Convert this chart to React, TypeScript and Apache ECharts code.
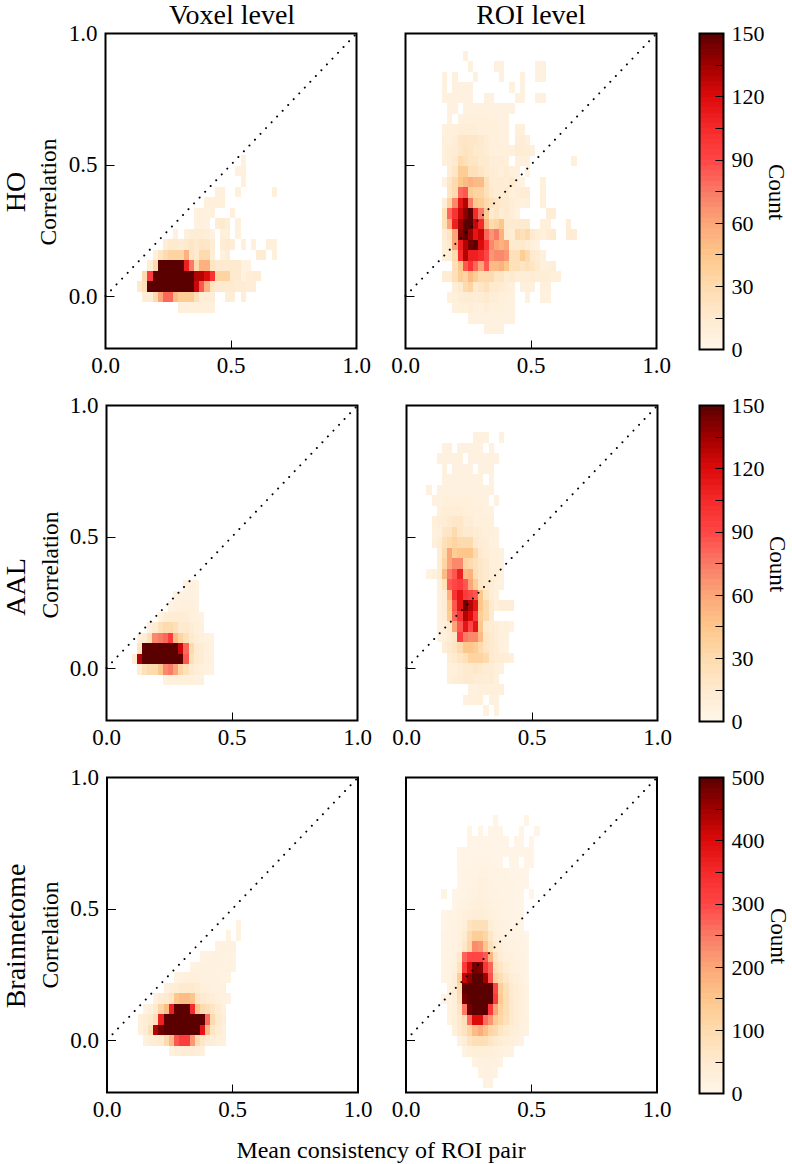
import React, { useEffect, useRef } from "react";
import * as echarts from "echarts";

const FONT = '"Liberation Serif", serif';

// Bin sizes in data units
const BIN_DX = 0.0206;
const BIN_DY = 0.04;

// Each row: [first column, counts...]; rows go from the lowest y bin upward.
const hoVoxelOrigin = [0.126, -0.063];
const hoVoxel = [
  [8, 8, 8, 8, 8, 8, 8, 8],
  [1, 10, 10, 30, 60, 80, 80, 50, 40, 40, 40, 25, 10, 10, 10, 0, 0, 10, 10, 0, 10],
  [0, 15, 25, 150, 150, 150, 150, 150, 150, 150, 150, 150, 125, 85, 55, 20, 15, 15, 15, 15, 12, 12, 10, 10],
  [1, 30, 95, 150, 150, 150, 150, 150, 150, 150, 150, 130, 130, 120, 100, 35, 35, 35, 15, 15, 5, 10, 12, 12],
  [2, 10, 30, 150, 150, 150, 150, 150, 110, 75, 30, 55, 55, 20, 15, 15, 15, 15, 15, 5, 5],
  [3, 8, 20, 30, 35, 35, 35, 55, 20, 15, 30, 30, 10, 0, 6, 10, 0, 0, 0, 0, 0, 12, 12, 0, 8],
  [5, 10, 15, 15, 12, 15, 20, 15, 20, 18, 12, 0, 12, 15, 10, 0, 8, 0, 8, 0, 0, 8, 8],
  [7, 6, 0, 8, 10, 12, 12, 10, 6, 0, 8, 8, 0, 6],
  [11, 6, 8, 6, 0, 12, 15, 10, 0, 6],
  [11, 6, 8, 6, 8, 0, 0, 0, 8],
  [13, 8, 8, 8, 8],
  [15, 8, 8, 0, 0, 8, 0, 0, 0, 0, 0, 0, 8],
  [20, 8],
  [19, 6, 8],
  [20, 6],
];

const hoRoiOrigin = [0.146, -0.145];
const hoRoi = [
  [8, 6, 6, 6, 6],
  [5, 6, 6, 6, 6, 6, 6, 6, 6, 6],
  [2, 6, 8, 8, 10, 8, 6, 10, 8, 8, 8, 6, 6],
  [1, 6, 8, 10, 12, 12, 10, 12, 15, 10, 10, 8, 8, 6, 0, 0, 6, 0, 0, 6, 6],
  [2, 10, 15, 30, 35, 15, 20, 25, 15, 15, 12, 10, 8, 0, 8, 8, 8, 0, 8, 8],
  [0, 12, 12, 25, 40, 35, 50, 40, 30, 30, 30, 20, 20, 12, 15, 10, 10, 10, 12, 10, 10, 10, 8, 8],
  [2, 25, 45, 85, 100, 80, 60, 85, 50, 50, 55, 45, 25, 25, 20, 25, 20, 15, 8, 8, 10],
  [0, 8, 10, 30, 105, 130, 110, 110, 105, 90, 65, 70, 70, 65, 25, 25, 40, 30, 15, 12, 8],
  [0, 10, 15, 60, 110, 130, 145, 150, 120, 100, 70, 60, 55, 60, 15, 15, 15, 12, 8, 5],
  [0, 12, 20, 60, 140, 150, 135, 115, 125, 80, 65, 75, 55, 15, 12, 30, 25, 30, 15, 10, 8, 12, 15, 0, 0, 12, 12],
  [0, 25, 60, 110, 135, 150, 150, 125, 105, 50, 30, 35, 45, 15, 15, 15, 15, 15, 0, 0, 8, 8, 0, 0, 0, 10],
  [0, 25, 80, 100, 125, 140, 150, 105, 75, 40, 15, 20, 12, 15, 10, 5, 0, 0, 0, 0, 0, 10, 10],
  [0, 10, 35, 70, 115, 130, 75, 45, 40, 30, 25, 20, 15, 15, 10, 8, 6, 8, 0, 0, 8],
  [1, 20, 30, 80, 85, 40, 35, 35, 25, 15, 12, 12, 15, 8, 10, 12, 12, 0, 0, 8],
  [0, 5, 18, 30, 45, 50, 55, 50, 50, 25, 12, 12, 12, 10, 15, 6, 5, 0, 0, 0, 8],
  [1, 10, 18, 40, 40, 25, 25, 20, 15, 12, 10, 8, 12, 8, 8, 0, 5],
  [0, 8, 10, 15, 30, 25, 20, 20, 15, 15, 10, 10, 10, 8, 0, 8, 8, 8, 0, 0, 0, 0, 0, 0, 0, 0, 8],
  [0, 8, 10, 12, 18, 22, 20, 15, 15, 12, 8, 8, 8, 8, 8, 12, 12, 10, 8],
  [0, 8, 8, 10, 18, 20, 18, 18, 15, 10, 8, 8, 6, 6, 0, 10, 10, 8],
  [0, 6, 8, 8, 10, 10, 10, 10, 8, 8, 8, 8, 6, 6, 0, 8, 8],
  [1, 6, 0, 6, 8, 8, 8, 8, 8, 8, 6, 6, 6],
  [1, 6, 6, 0, 6, 6, 6, 6, 6, 6, 6, 6, 6, 6],
  [0, 6, 6, 6, 6, 6, 6, 0, 0, 6, 6, 0, 0, 0, 0, 6, 6, 0, 0, 6, 6],
  [0, 6, 0, 6, 6, 6, 6, 0, 0, 0, 0, 0, 0, 0, 6, 0, 6],
  [0, 6, 0, 6, 0, 0, 0, 6, 0, 0, 0, 0, 6, 0, 0, 0, 6, 0, 0, 6, 6],
  [5, 6, 0, 0, 0, 0, 6, 6, 0, 0, 0, 0, 0, 0, 6, 6],
  [4, 6],
];

const aalVoxelOrigin = [0.1005, -0.066];
const aalVoxel = [
  [6, 6, 8, 8, 8, 8, 8, 6, 6],
  [1, 10, 25, 30, 30, 45, 70, 75, 60, 35, 25, 15, 10, 8, 6, 5],
  [0, 12, 130, 150, 150, 150, 150, 150, 150, 150, 150, 85, 25, 15, 12, 8, 6],
  [1, 20, 150, 150, 150, 150, 150, 150, 150, 125, 80, 30, 15, 12, 8, 5],
  [1, 8, 12, 25, 70, 75, 80, 95, 50, 35, 25, 15, 10, 8, 6, 5],
  [3, 6, 12, 25, 30, 30, 25, 15, 15, 12, 8, 6],
  [5, 5, 10, 12, 12, 12, 10, 8, 6, 5],
  [7, 5, 6, 8, 8, 8, 6],
  [8, 5, 6, 6, 6, 5],
  [10, 5, 6, 5],
];

const aalRoiOrigin = [0.0795, -0.181];
const aalRoi = [
  [11, 6, 0, 6],
  [7, 6, 8, 8, 8, 0, 6, 6],
  [8, 6, 6, 8, 8, 8, 8, 8],
  [4, 8, 10, 12, 15, 15, 12, 12, 10, 12, 8],
  [4, 8, 8, 10, 15, 15, 18, 15, 12, 12, 8, 6],
  [4, 10, 15, 20, 25, 35, 35, 35, 30, 15, 12, 12, 10, 8],
  [3, 10, 15, 20, 30, 45, 45, 40, 30, 20, 15, 12, 8, 5],
  [2, 5, 8, 12, 18, 95, 75, 70, 70, 50, 20, 15, 10, 8, 6],
  [2, 6, 8, 15, 60, 85, 115, 90, 115, 45, 15, 12, 10, 6, 8, 5],
  [2, 6, 10, 40, 80, 100, 130, 120, 95, 40, 30, 15],
  [2, 6, 12, 45, 85, 115, 145, 130, 115, 45, 30, 15, 8, 10, 10, 10],
  [2, 6, 12, 55, 100, 115, 95, 90, 85, 45, 20, 10, 8],
  [2, 8, 25, 85, 90, 95, 85, 60, 40, 18, 15, 12, 8, 6],
  [0, 5, 8, 12, 50, 75, 85, 110, 50, 55, 25, 18, 15, 10, 10, 6],
  [2, 12, 35, 60, 70, 70, 35, 30, 25, 18, 15, 8, 8, 6],
  [2, 10, 30, 60, 40, 45, 45, 45, 30, 15, 10, 8, 8, 6],
  [1, 8, 12, 25, 30, 35, 30, 30, 30, 15, 12, 10, 6, 6],
  [1, 6, 8, 18, 20, 30, 18, 15, 15, 12, 10, 8, 8, 6],
  [1, 8, 10, 12, 15, 18, 18, 10, 12, 8, 8, 8, 8],
  [2, 8, 10, 10, 10, 10, 8, 8, 8, 8, 6, 6],
  [1, 6, 6, 8, 8, 8, 8, 8, 8, 6, 6, 6, 0, 6],
  [0, 6, 0, 6, 6, 6, 6, 6, 6, 6, 6, 6, 6, 6],
  [3, 6, 6, 6, 6, 6, 6, 6, 6, 0, 6],
  [3, 6, 0, 6, 6, 6, 6, 0, 6, 6, 6],
  [2, 6, 6, 6, 6, 6, 0, 6, 6, 6, 6, 6, 6],
  [3, 6, 6, 0, 6, 6, 6, 6, 6, 0, 6],
  [9, 6, 6, 6, 0, 0, 6],
];

const brainVoxelOrigin = [0.1227, -0.061];
const brainVoxel = [
  [6, 25, 35, 40, 40, 40, 35, 25],
  [1, 20, 35, 40, 50, 100, 165, 285, 315, 315, 215, 100, 60, 40, 35, 25, 20],
  [0, 25, 40, 85, 435, 485, 500, 500, 500, 500, 500, 500, 500, 385, 165, 65, 40, 25],
  [0, 25, 35, 50, 85, 365, 500, 500, 500, 500, 500, 500, 500, 500, 265, 100, 50, 35],
  [1, 15, 25, 50, 115, 165, 365, 500, 500, 500, 350, 150, 100, 85, 65, 40, 25],
  [3, 20, 40, 50, 65, 150, 165, 165, 150, 65, 50, 40, 35, 25, 20, 15],
  [5, 20, 35, 40, 50, 50, 50, 40, 25, 25, 20, 20, 20],
  [7, 15, 20, 25, 25, 25, 20, 20, 20, 20, 15, 15],
  [10, 15, 20, 20, 20, 20, 20, 20, 20, 15],
  [12, 15, 15, 20, 20, 20, 20, 15],
  [15, 15, 20, 20, 20],
  [17, 15, 0, 15],
  [19, 15],
];

const brainRoiOrigin = [0.141, -0.184];
const brainRoi = [
  [8, 15, 15],
  [7, 15, 20, 20, 15],
  [6, 15, 20, 20, 20, 20, 15],
  [4, 15, 25, 30, 30, 30, 30, 25, 20, 15, 15],
  [3, 20, 35, 70, 85, 90, 85, 65, 50, 40, 30, 25, 20, 15],
  [2, 25, 50, 75, 110, 165, 190, 160, 115, 100, 65, 50, 35, 30, 20, 15],
  [1, 15, 30, 55, 85, 265, 400, 400, 260, 220, 140, 110, 80, 50, 35, 25, 20],
  [1, 15, 25, 65, 250, 480, 500, 500, 500, 330, 200, 120, 90, 50, 35, 25, 15],
  [0, 10, 15, 30, 90, 480, 500, 500, 500, 500, 500, 320, 140, 90, 50, 35, 25, 15],
  [1, 20, 35, 100, 500, 500, 500, 500, 500, 500, 300, 130, 85, 45, 35, 25, 15],
  [0, 10, 15, 35, 130, 420, 460, 500, 500, 450, 290, 120, 90, 60, 35, 30, 20, 12],
  [0, 10, 15, 25, 75, 320, 400, 480, 470, 330, 270, 90, 65, 40, 25, 20, 15, 10],
  [0, 10, 12, 20, 55, 270, 300, 300, 300, 280, 180, 75, 40, 25, 25, 15, 15, 10],
  [0, 10, 12, 15, 25, 60, 115, 230, 220, 150, 85, 40, 30, 20, 15, 15, 12, 10],
  [0, 10, 12, 15, 20, 45, 100, 130, 130, 110, 60, 30, 25, 15, 15, 12, 10, 8],
  [0, 8, 10, 15, 20, 30, 70, 85, 85, 85, 35, 25, 20, 15, 12, 10, 8],
  [0, 8, 10, 10, 15, 25, 30, 35, 35, 30, 25, 20, 15, 12, 12, 8, 8],
  [2, 8, 10, 15, 20, 25, 30, 25, 20, 15, 15, 12, 10, 8, 8],
  [0, 10, 0, 8, 8, 12, 15, 20, 25, 20, 15, 15, 12, 10, 10, 8, 8, 0, 8],
  [3, 8, 10, 12, 15, 25, 20, 15, 12, 12, 10, 10, 8, 8, 8],
  [3, 8, 10, 10, 12, 15, 15, 12, 10, 10, 10, 8, 8, 8, 8],
  [3, 8, 8, 8, 10, 10, 10, 10, 8, 8, 0, 8, 8, 0, 8, 8],
  [3, 8, 8, 8, 8, 8, 8, 8, 8, 8, 8, 8, 8, 8, 8, 8],
  [5, 8, 8, 8, 8, 8, 8, 8, 8, 0, 8, 8, 0, 8],
  [5, 8, 0, 8, 0, 8, 8, 8, 0, 0, 0, 8, 0, 0, 5],
  [10, 8, 0, 0, 0, 0, 0, 8],
];

const diagonal = [[0, 0], [1, 1]];
const axisTicks = [0, 0.5, 1];
const colTitles = ["Voxel level", "ROI level"];
const rowTitles = ["HO", "AAL", "Brainnetome"];
const countMaxes = [150, 150, 500];
const countSteps = [30, 30, 100];

const colorStops: [number, string][] = [
  [0, "#FFF6E9"], [0.1, "#FEEACF"], [0.2, "#FEDBAE"], [0.3, "#FDC68A"], [0.4, "#FBA678"],
  [0.5, "#F97A66"], [0.6, "#FF4545"], [0.7, "#F52A2A"], [0.8, "#DD0A0A"], [0.9, "#A00000"], [1, "#5A0000"],
];

function hex(c: string) {
  return [1, 3, 5].map((i) => parseInt(c.slice(i, i + 2), 16));
}
function colorAt(t: number) {
  const f = Math.max(0, Math.min(1, t));
  for (let i = 1; i < colorStops.length; i++) {
    if (f <= colorStops[i][0]) {
      const [a, ca] = colorStops[i - 1];
      const [b, cb] = colorStops[i];
      const k = (f - a) / (b - a);
      const A = hex(ca), B = hex(cb);
      return `rgb(${A.map((v, j) => Math.round(v + (B[j] - v) * k)).join(",")})`;
    }
  }
  return colorStops[colorStops.length - 1][1];
}

function flatten(rows: number[][], origin: number[]) {
  const out: number[][] = [];
  rows.forEach((row, r) => {
    row.slice(1).forEach((count, i) => {
      if (count > 0) out.push([origin[0] + (row[0] + i) * BIN_DX, origin[1] + r * BIN_DY, count]);
    });
  });
  return out;
}

const panels = [
  { rows: hoVoxel, origin: hoVoxelOrigin, r: 0, c: 0 },
  { rows: hoRoi, origin: hoRoiOrigin, r: 0, c: 1 },
  { rows: aalVoxel, origin: aalVoxelOrigin, r: 1, c: 0 },
  { rows: aalRoi, origin: aalRoiOrigin, r: 1, c: 1 },
  { rows: brainVoxel, origin: brainVoxelOrigin, r: 2, c: 0 },
  { rows: brainRoi, origin: brainRoiOrigin, r: 2, c: 1 },
];

const rowTop = [33.5, 405.5, 777.5];
const rowHeight = 315;
const colLeft = [[105.5, 405.5], [106.5, 406.5], [107, 406]];
const panelWidth = 251;
const BAR_LEFT = 699.5;
const BAR_WIDTH = 24;
const TICK_FONT = 23;
const BAR_FONT = 22;

export default function App() {
  const ref = useRef<HTMLDivElement>(null);
  useEffect(() => {
    document.body.style.margin = "0";
    const chart = echarts.init(ref.current!, undefined, { renderer: "svg" });
    const grid: any[] = [];
    const xAxis: any[] = [];
    const yAxis: any[] = [];
    const series: any[] = [];
    const labelStyle = { fontFamily: FONT, fontSize: TICK_FONT, color: "#000" };

    panels.forEach((p, idx) => {
      grid.push({
        left: colLeft[p.r][p.c], top: rowTop[p.r], width: panelWidth, height: rowHeight,
        show: true, borderColor: "#000", borderWidth: 2, backgroundColor: "#fff", containLabel: false,
      });
      xAxis.push({
        gridIndex: idx, type: "value", min: 0, max: 1, interval: 0.5,
        axisLine: { show: false, onZero: false }, splitLine: { show: false },
        axisTick: { inside: true, length: 8, lineStyle: { color: "#000", width: 1 } },
        axisLabel: { ...labelStyle, margin: 5, formatter: (v: number) => v.toFixed(1) },
      });
      yAxis.push({
        gridIndex: idx, type: "value", min: -0.2, max: 1,
        axisLine: { show: false, onZero: false }, splitLine: { show: false },
        axisTick: { inside: true, length: 9, customValues: axisTicks, lineStyle: { color: "#000", width: 1 } },
        axisLabel: {
          ...labelStyle, show: p.c === 0, margin: 8, customValues: axisTicks,
          formatter: (v: number) => v.toFixed(1),
        },
      });
      const max = countMaxes[p.r];
      series.push({
        type: "custom", xAxisIndex: idx, yAxisIndex: idx, silent: true, z: 2,
        data: flatten(p.rows, p.origin),
        encode: { x: 0, y: 1 },
        renderItem: (_: any, api: any) => {
          const x = api.value(0), y = api.value(1), n = api.value(2);
          const a = api.coord([x, y + BIN_DY]);
          const b = api.coord([x + BIN_DX, y]);
          const x0 = Math.round(a[0]), y0 = Math.round(a[1]);
          return {
            type: "rect",
            shape: { x: x0, y: y0, width: Math.round(b[0]) - x0, height: Math.round(b[1]) - y0 },
            style: { fill: colorAt(n / max) },
          };
        },
      });
      series.push({
        type: "line", xAxisIndex: idx, yAxisIndex: idx, data: diagonal, symbol: "none", silent: true, z: 3,
        lineStyle: { color: "#000", width: 2, type: [0.01, 8], cap: "round" },
      });
    });

    countMaxes.forEach((max, r) => {
      const idx = panels.length + r;
      const band = max / 60;
      const bands = Array.from({ length: 60 }, (_, i) => [i * band, band, max]);
      grid.push({
        left: BAR_LEFT, top: rowTop[r], width: BAR_WIDTH, height: rowHeight + 1, show: false,
      });
      xAxis.push({ gridIndex: idx, type: "value", min: 0, max: 1, show: false });
      yAxis.push({
        gridIndex: idx, type: "value", position: "right", min: 0, max, interval: countSteps[r],
        axisLine: { show: false, onZero: false }, splitLine: { show: false },
        axisTick: { inside: true, length: 8, lineStyle: { color: "#000", width: 1 } },
        minorTick: { show: true, splitNumber: 2, length: 8, lineStyle: { color: "#000", width: 1 } },
        axisLabel: { ...labelStyle, fontSize: BAR_FONT, margin: 8 },
        z: 5,
      });
      series.push({
        type: "custom", xAxisIndex: idx, yAxisIndex: idx, silent: true, z: 1, clip: true,
        data: bands,
        encode: { y: 0 },
        renderItem: (_: any, api: any) => {
          const lo = api.value(0), h = api.value(1), m = api.value(2);
          const a = api.coord([0, lo + h]);
          const b = api.coord([1, lo]);
          const y0 = Math.round(a[1]);
          return {
            type: "rect",
            shape: { x: a[0], y: y0, width: b[0] - a[0], height: Math.round(b[1]) - y0 },
            style: { fill: colorAt((lo + h / 2) / m) },
          };
        },
      });
    });

    const text = (t: string, x: number, y: number, size: number, rotation = 0) => ({
      type: "text", x, y, rotation, silent: true,
      style: {
        text: t, fontFamily: FONT, fontSize: size, fill: "#000",
        textAlign: "center", textVerticalAlign: "middle",
      },
    });
    const quarter = Math.PI / 2;
    const graphic: any[] = [
      text(colTitles[0], 232, 14, 28),
      text(colTitles[1], 531, 14, 28),
      text(rowTitles[0], 15, 192, 28, quarter),
      text(rowTitles[1], 15, 587, 28, quarter),
      text(rowTitles[2], 15, 936, 28, quarter),
      text("Correlation", 48, 192, 23.5, quarter),
      text("Correlation", 50, 565, 23.5, quarter),
      text("Correlation", 50, 935, 23.5, quarter),
      text("Count", 776, 192, 23, -quarter),
      text("Count", 777, 564, 23, -quarter),
      text("Count", 778, 936, 23, -quarter),
      text("Mean consistency of ROI pair", 381, 1150, 24),
      ...rowTop.map((top) => ({
        type: "rect", z: 100, silent: true,
        shape: { x: BAR_LEFT, y: top, width: BAR_WIDTH, height: rowHeight + 1 },
        style: { fill: "none", stroke: "#000", lineWidth: 2 },
      })),
    ];

    chart.setOption({ animation: false, grid, xAxis, yAxis, series, graphic });
    return () => chart.dispose();
  }, []);
  return (
    <div
      ref={ref}
      style={{ position: "fixed", left: 0, top: 0, width: 792, height: 1164, background: "#fff" }}
    />
  );
}
